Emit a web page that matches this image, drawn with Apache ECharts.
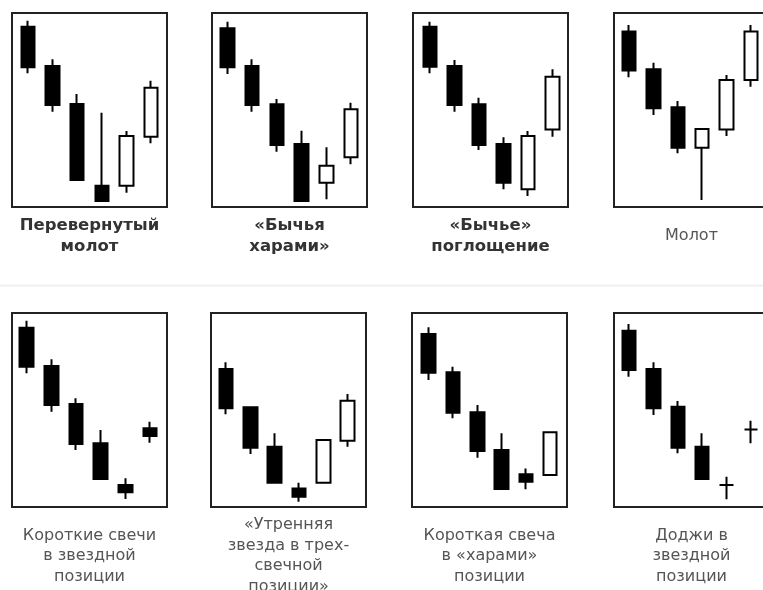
<!DOCTYPE html>
<html>
<head>
<meta charset="utf-8">
<script src="https://cdn.jsdelivr.net/npm/echarts@6/dist/echarts.min.js"></script>
<style>
html,body{margin:0;padding:0;background:#fff;}
#c{width:763px;height:590px;}
</style>
</head>
<body>
<div id="c"></div>
<script>
// candle order in each panel: [open, close, lowest, highest]
const categories = ['1', '2', '3', '4', '5', '6'];

const invertedHammer   = [[92.9,72.0,68.9,96.0],[72.7,52.6,49.1,76.1],[53.1,13.9,13.9,58.2],[11.0,3.1,3.1,48.6],[11.0,36.6,7.4,39.2],[36.2,61.5,32.8,65.1]];
const bullishHarami    = [[92.1,72.0,68.6,95.5],[72.7,52.6,49.1,76.1],[52.9,32.0,28.5,55.7],[32.5,3.1,3.1,39.3],[12.5,21.3,4.0,30.8],[25.6,50.4,22.0,53.8]];
const bullishEngulfing = [[92.9,72.3,68.9,95.5],[72.7,52.6,49.1,75.8],[52.9,32.0,29.4,56.3],[32.5,12.5,9.1,35.9],[9.1,36.6,5.7,39.2],[40.0,67.2,36.2,71.0]];
const hammer           = [[90.4,70.3,66.9,93.8],[71.0,50.9,47.4,74.4],[51.4,30.6,27.7,54.6],[30.6,40.2,3.6,40.2],[40.0,65.5,36.6,68.0],[65.5,90.4,62.0,93.8]];
const shortStar        = [[92.4,72.3,68.9,96.0],[72.7,52.6,49.1,76.1],[53.1,32.5,29.4,56.0],[32.8,14.4,14.4,39.7],[11.3,7.6,4.1,14.8],[40.6,36.6,33.1,44.0]];
const morningStar      = [[71.1,50.9,47.8,74.6],[51.4,30.6,27.3,51.7],[31.1,12.5,12.5,38.0],[9.6,5.3,2.7,12.5],[12.5,34.5,12.5,34.5],[34.2,54.8,31.1,58.2]];
const shortHarami      = [[89.2,69.2,65.5,92.6],[69.4,48.6,45.7,72.3],[48.8,28.9,25.4,52.6],[29.4,9.3,9.3,38.0],[16.9,13.0,9.1,19.9],[16.5,38.5,16.5,38.5]];
const dojiStar         = [[90.9,70.6,67.2,94.3],[71.1,50.9,47.4,74.6],[51.7,30.6,27.7,54.6],[31.1,14.4,14.4,38.0],[11.3,11.3,4.0,15.6],[40.0,40.0,32.8,44.5]];

const panelData = [invertedHammer, bullishHarami, bullishEngulfing, hammer, shortStar, morningStar, shortHarami, dojiStar];

const captions = [
  'Перевернутый\nмолот',
  '«Бычья\nхарами»',
  '«Бычье»\nпоглощение',
  'Молот',
  'Короткие свечи\nв звездной\nпозиции',
  '«Утренняя\nзвезда в трех-\nсвечной\nпозиции»',
  'Короткая свеча\nв «харами»\nпозиции',
  'Доджи в\nзвездной\nпозиции'
];
const captionBold = [true, true, true, false, false, false, false, false];

// layout (positions only)
const frameX = [12, 212, 413, 614, 12, 211, 412, 614];
const frameW = 155;
const rowTop = [13, 313];
const frameH = 194;
const gridLeft = [15.7, 215, 417.8, 616.9, 14.4, 213.8, 416.6, 617];
const gridWidth = [147.6, 148.4, 146.8, 148.8, 148, 146, 145.6, 147];
const captionY = [236, 556];

const grids = [], xAxes = [], yAxes = [], series = [], graphics = [];

graphics.push({
  type: 'line', silent: true,
  shape: { x1: 0, y1: 285.5, x2: 763, y2: 285.5 },
  style: { stroke: '#efefef', lineWidth: 2 }
});

panelData.forEach((d, i) => {
  const row = i < 4 ? 0 : 1;
  grids.push({ left: gridLeft[i], top: rowTop[row], width: gridWidth[i], height: frameH, show: false });
  xAxes.push({ type: 'category', gridIndex: i, data: categories, show: false, boundaryGap: true });
  yAxes.push({ type: 'value', gridIndex: i, min: 0, max: 100, show: false });
  series.push({
    type: 'candlestick', xAxisIndex: i, yAxisIndex: i, data: d,
    barWidth: 14, silent: true, animation: false,
    itemStyle: {
      color: '#ffffff', color0: '#000000',
      borderColor: '#000000', borderColor0: '#000000', borderColorDoji: '#000000',
      borderWidth: 2
    }
  });
  graphics.push({
    type: 'rect', silent: true,
    shape: { x: frameX[i], y: rowTop[row], width: frameW, height: frameH },
    style: { fill: 'none', stroke: '#222', lineWidth: 2 }
  });
  graphics.push({
    type: 'text', silent: true,
    x: frameX[i] + frameW / 2, y: captionY[row],
    style: {
      text: captions[i], align: 'center', verticalAlign: 'middle',
      fontFamily: 'DejaVu Sans',
      fontSize: captionBold[i] ? 16.5 : 16,
      fontWeight: captionBold[i] ? 'bold' : 'normal',
      lineHeight: 20.5,
      fill: captionBold[i] ? '#333333' : '#555555'
    }
  });
});

const chart = echarts.init(document.getElementById('c'));
chart.setOption({
  animation: false,
  backgroundColor: '#ffffff',
  grid: grids, xAxis: xAxes, yAxis: yAxes, series: series,
  graphic: graphics
});
</script>
</body>
</html>
